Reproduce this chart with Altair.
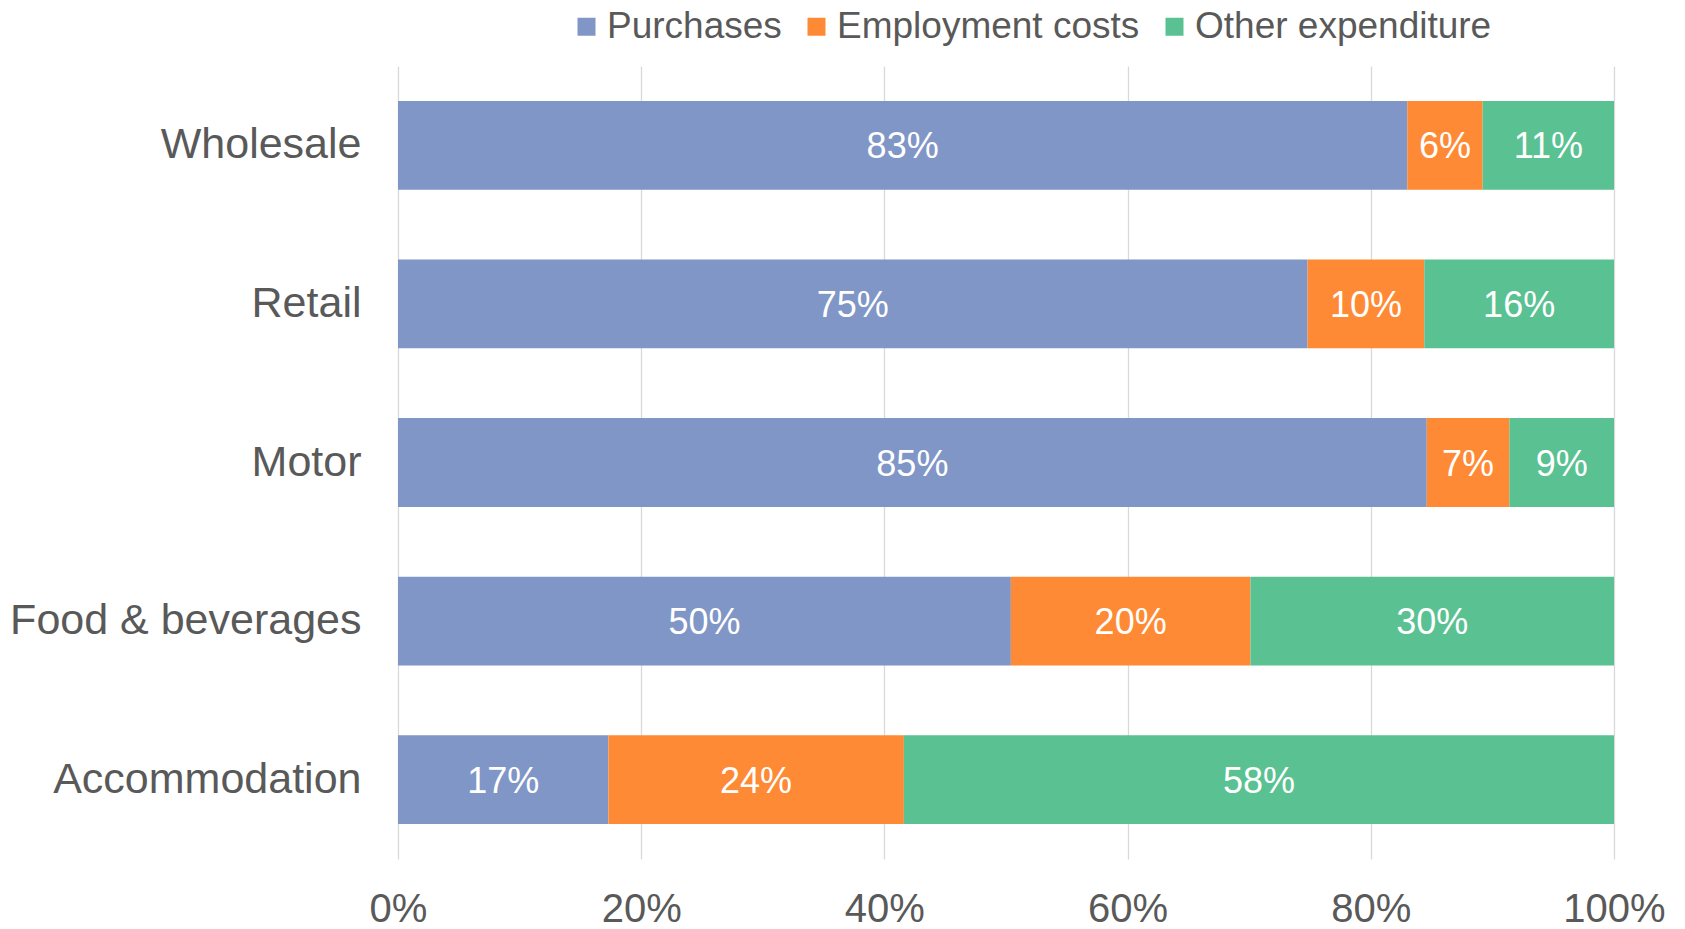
import altair as alt
import pandas as pd

sectors = ["Wholesale", "Retail", "Motor", "Food & beverages", "Accommodation"]
series = ["Purchases", "Employment costs", "Other expenditure"]
purchases = [83.0, 74.8, 84.6, 50.4, 17.3]
employment = [6.2, 9.6, 6.8, 19.7, 24.3]
other = [10.8, 15.6, 8.6, 29.9, 58.4]
colors = ["#7F96C6", "#FF8A35", "#5AC192"]
x_ticks = [0, 20, 40, 60, 80, 100]

rows = []
for i, s in enumerate(sectors):
    for k, (name, vals) in enumerate(zip(series, [purchases, employment, other])):
        rows.append({"sector": s, "series": name, "order": k, "value": vals[i]})
df = pd.DataFrame(rows)

FONT = "Liberation Sans"
TXT = "#595959"

base = alt.Chart(df).transform_stack(
    stack="value", groupby=["sector"], as_=["v0", "v1"],
    sort=[alt.SortField("order", order="ascending")]
).transform_calculate(
    mid="(datum.v0 + datum.v1) / 2",
    label="format(datum.value, '.0f') + '%'"
)

y_enc = alt.Y("sector:N", sort=sectors, title=None,
              scale=alt.Scale(paddingInner=0.44, paddingOuter=0.22),
              axis=alt.Axis(domain=False, ticks=False, labelFontSize=43,
                            labelFont=FONT, labelColor=TXT, labelPadding=37,
                            labelLimit=0, grid=False))

bars = base.mark_bar().encode(
    x=alt.X("v0:Q", scale=alt.Scale(domain=[0, 100], nice=False), title=None,
            axis=alt.Axis(values=x_ticks, labelExpr="datum.value + '%'",
                          domain=False, ticks=False, grid=True,
                          gridColor="#D9D9D9", gridWidth=1.3,
                          labelFontSize=40, labelFont=FONT, labelColor=TXT,
                          labelPadding=30, labelFlush=False, labelOverlap=False)),
    x2="v1:Q",
    y=y_enc,
    color=alt.Color("series:N", sort=series,
                    scale=alt.Scale(domain=series, range=colors),
                    legend=alt.Legend(title=None, orient="none", direction="horizontal",
                                      legendX=170, legendY=-58,
                                      symbolType="square", symbolSize=324,
                                      symbolStrokeWidth=0, symbolOpacity=1,
                                      labelFontSize=37, labelFont=FONT,
                                      labelColor=TXT, labelOffset=2,
                                      columnPadding=16, labelLimit=600)),
    order=alt.Order("order:Q"),
)

labels = base.mark_text(color="white", fontSize=36, font=FONT, dy=2).encode(
    x=alt.X("mid:Q"),
    y=alt.Y("sector:N", sort=sectors),
    text="label:N",
)

chart = (bars + labels).properties(
    width=1216, height=793,
    autosize=alt.AutoSizeParams(type="none"),
    padding={"left": 390, "top": 58, "right": 60, "bottom": 90},
).configure(background="white").configure_view(strokeWidth=0, stroke="transparent")

chart.save("out.html", embed_options={"renderer": "svg", "actions": False})
